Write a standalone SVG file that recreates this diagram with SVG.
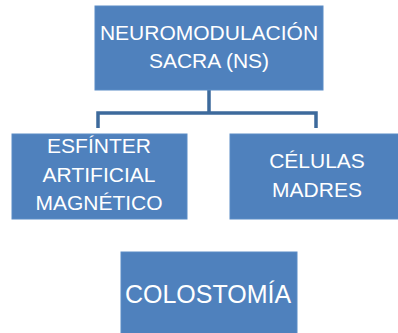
<svg xmlns="http://www.w3.org/2000/svg" width="398" height="333" viewBox="0 0 398 333">
<style>
.box{fill:#4F81BD;stroke:#5B8CC6;stroke-width:1}
.t{fill:#FFFFFF;font-family:"Liberation Sans",Arial,sans-serif;font-size:21px;text-anchor:middle}
.big{font-size:25px}
.conn{fill:none;stroke:#3D6A9C;stroke-width:3.5}
</style>
<rect width="398" height="333" fill="#FFFFFF"/>
<g id="connectors">
<path class="conn" d="M209 90 V113 M98 128 V113 H316 V128"/>
</g>
<g id="node-ns">
<rect class="box" x="95" y="6" width="228" height="84"/>
<text class="t" x="209" y="39.5">NEUROMODULACIÓN</text>
<text class="t" x="209" y="68">SACRA (NS)</text>
</g>
<g id="node-esfinter">
<rect class="box" x="12" y="134" width="175" height="85"/>
<text class="t" x="99" y="153">ESFÍNTER</text>
<text class="t" x="99" y="182">ARTIFICIAL</text>
<text class="t" x="99" y="210">MAGNÉTICO</text>
</g>
<g id="node-celulas">
<rect class="box" x="230" y="134" width="176" height="85"/>
<text class="t" x="317" y="168">CÉLULAS</text>
<text class="t" x="317" y="197">MADRES</text>
</g>
<g id="node-colostomia">
<rect class="box" x="121" y="252" width="176" height="90"/>
<text class="t big" x="208" y="303">COLOSTOMÍA</text>
</g>
</svg>
